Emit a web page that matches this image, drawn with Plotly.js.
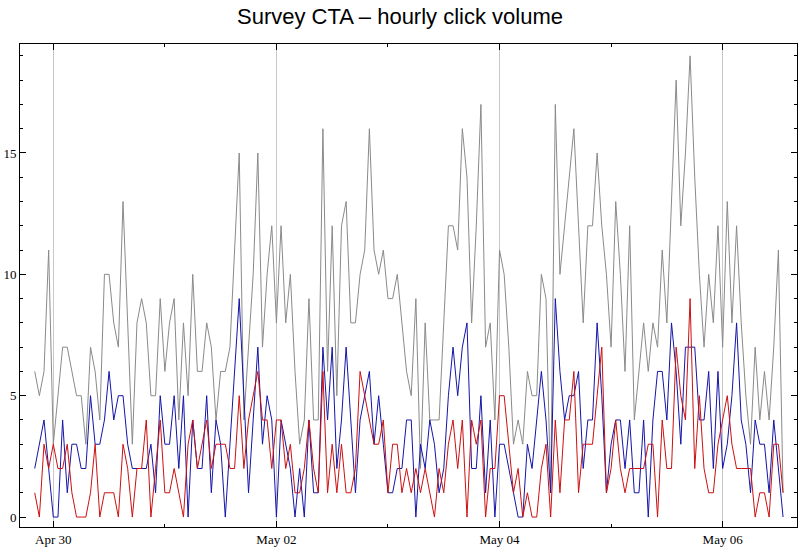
<!DOCTYPE html>
<html>
<head>
<meta charset="utf-8">
<script src="https://cdn.plot.ly/plotly-3.0.1.min.js"></script>
<style>html,body{margin:0;padding:0;background:#fff;}#chart{width:800px;height:547px;}</style>
</head>
<body>
<div id="chart"></div>
<script>
// hourly samples starting Apr 29 20:00
var startTime = '2024-04-29T20:00:00';
var totalClicks = [
  6,5,6,11,3,5,7,7,6,5,5,3,7,
  6,4,10,10,8,7,13,8,3,8,9,8,5,5,9,6,
  8,9,4,8,5,10,6,6,8,7,4,6,6,7,11,
  15,4,7,10,15,7,10,12,8,12,8,10,6,3,
  4,9,4,4,16,6,12,5,12,13,8,8,10,11,16,
  11,10,11,9,9,10,8,6,5,9,2,8,4,4,
  4,8,12,12,11,16,14,8,12,17,7,8,4,11,10,
  7,3,4,3,6,5,5,10,9,1,17,10,12,14,16,
  12,8,12,12,15,12,10,7,13,10,6,12,4,6,
  8,6,8,7,11,8,13,18,12,15,19,14,10,7,10,
  8,12,7,13,8,12,8,5,3,7,4,6,4,7,11,1
];
var blueClicks = [
  2,3,4,2,0,0,4,1,3,3,2,2,5,
  3,3,4,6,4,5,5,3,2,2,2,2,3,1,5,3,
  3,5,2,5,0,4,2,2,5,1,4,3,0,3,6,
  9,5,1,4,7,3,5,4,0,4,3,2,0,2,
  0,4,1,1,7,4,7,2,4,7,4,1,4,5,6,
  3,5,3,1,1,2,2,4,4,0,3,2,4,3,
  1,2,5,7,5,7,8,2,2,5,1,4,0,3,3,
  2,1,0,0,3,2,4,6,4,1,9,6,4,5,5,
  6,2,4,4,8,5,1,3,4,4,2,4,1,1,
  4,0,4,6,6,4,8,6,3,7,7,7,4,4,6,
  2,6,2,3,5,8,4,3,1,4,3,3,1,4,2,0
];
var redClicks = [
  1,0,3,2,3,2,2,3,1,0,0,0,1,
  3,0,1,1,1,0,3,2,0,2,2,4,0,2,4,1,
  1,2,1,0,3,4,2,3,4,2,3,3,3,2,2,
  5,2,4,5,6,4,4,2,4,4,2,3,1,1,
  2,4,2,1,6,1,3,1,3,1,1,2,6,5,4,
  3,3,4,1,3,3,1,2,1,2,1,2,1,0,
  2,1,3,4,2,4,0,4,3,4,0,2,2,5,5,
  3,1,2,0,1,0,0,2,3,0,4,1,4,4,6,
  1,3,3,3,5,7,1,2,4,2,1,2,2,2,
  2,3,3,0,4,2,2,7,5,4,9,2,5,2,1,
  1,3,4,5,3,2,2,2,2,0,1,1,0,3,3,1
];
var yTickVals = [0,5,10,15];
var xTickVals = ['2024-04-30','2024-05-02','2024-05-04','2024-05-06'];
var xTickText = ['Apr 30','May 02','May 04','May 06'];

function pad(n){return (n<10?'0':'')+n;}
var t0 = new Date(startTime + 'Z').getTime();
var times = totalClicks.map(function(_, i){
  var d = new Date(t0 + i*3600000);
  return d.getUTCFullYear()+'-'+pad(d.getUTCMonth()+1)+'-'+pad(d.getUTCDate())+' '+pad(d.getUTCHours())+':00';
});

var traces = [
  {x: times, y: totalClicks, mode:'lines', line:{color:'#8a8a8a', width:1}, hoverinfo:'skip'},
  {x: times, y: blueClicks, mode:'lines', line:{color:'#1414a8', width:1}, hoverinfo:'skip'},
  {x: times, y: redClicks, mode:'lines', line:{color:'#cc1010', width:1}, hoverinfo:'skip'}
];

var tickFont = {family:'"Liberation Serif", "Times New Roman", serif', size:13, color:'#000'};
var layout = {
  width:800, height:547,
  margin:{l:20, r:3, t:44, b:20, pad:0},
  paper_bgcolor:'#fff', plot_bgcolor:'#fff',
  showlegend:false,
  title:{text:'Survey CTA \u2013 hourly click volume', x:0.5, xanchor:'center', xref:'container',
         y:1-16/547, yref:'container', yanchor:'middle',
         font:{family:'"Liberation Sans", Arial, sans-serif', size:22, color:'#000'}},
  xaxis:{type:'date', range:['2024-04-29 16:50','2024-05-06 16:00'],
         tickmode:'array', tickvals:xTickVals, ticktext:xTickText,
         ticks:'inside', ticklen:6, tickcolor:'#000', tickwidth:1,
         showline:true, linecolor:'#000', linewidth:1, mirror:'ticks',
         showgrid:true, gridcolor:'#c8c8c8', gridwidth:1, zeroline:false,
         minor:{dtick:86400000, tick0:'2024-04-30', ticks:'inside', ticklen:3, tickcolor:'#000', showgrid:false},
         tickfont:tickFont, automargin:false},
  yaxis:{range:[-0.41, 19.49], tickmode:'array', tickvals:yTickVals,
         ticks:'inside', ticklen:6, tickcolor:'#000', tickwidth:1,
         showline:true, linecolor:'#000', linewidth:1, mirror:'ticks',
         showgrid:false, zeroline:false,
         minor:{dtick:1, tick0:0, ticks:'inside', ticklen:3, tickcolor:'#000', showgrid:false},
         tickfont:tickFont, automargin:false}
};
Plotly.newPlot('chart', traces, layout, {staticPlot:true, displayModeBar:false});
</script>
</body>
</html>
